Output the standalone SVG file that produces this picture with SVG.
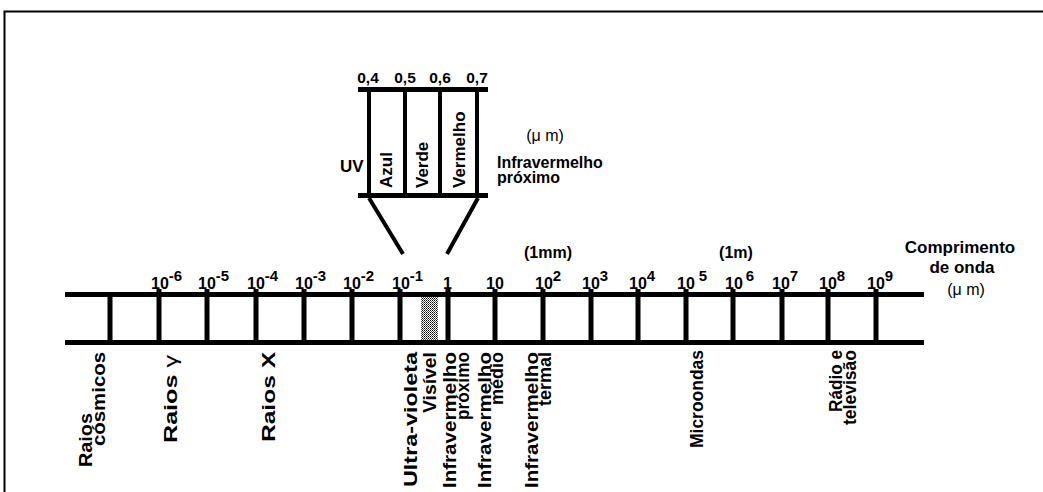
<svg xmlns="http://www.w3.org/2000/svg" width="1043" height="492" viewBox="0 0 1043 492">
<defs>
<pattern id="stip" width="2" height="2" patternUnits="userSpaceOnUse">
<rect width="2" height="2" fill="#fff"/>
<rect width="1" height="1" fill="#000"/>
<rect x="1" y="1" width="1" height="1" fill="#555"/>
</pattern>
</defs>
<style>
.t{font-family:"Liberation Sans",Arial,sans-serif;fill:#000}
.b{font-weight:bold}
.num{font-size:16px;font-weight:bold}
.sup{font-size:15px}
.lab{font-size:18px;font-weight:bold}
.h16{font-size:16px}
.h17{font-size:17px}
.rail{stroke:#000;stroke-width:5;fill:none}
.rung{stroke:#000;stroke-width:5;fill:none}
.thin{stroke:#000;stroke-width:4;fill:none}
</style>
<rect width="1043" height="492" fill="#fff"/>
<path d="M4.5,492 V11.5 H1043" fill="none" stroke="#000" stroke-width="2"/>

<g id="axis">
<path class="rail" d="M65,294.5 H924 M65,342.5 H924"/>
<path class="rung" d="M110,294 V345 M159,289 V345 M207,289 V345 M256,289 V345 M304,289 V345 M352,289 V345 M400,289 V345 M448,289 V345 M495,289 V345 M543,289 V345 M591,289 V345 M638,289 V345 M686,289 V345 M733,289 V345 M782,289 V345 M828,289 V345 M876,289 V345"/>
<rect x="421" y="297" width="17" height="43" fill="url(#stip)"/>
</g>

<g id="scale" class="t num">
<text x="151" y="289">10<tspan class="sup" dy="-8">-6</tspan></text>
<text x="198" y="289">10<tspan class="sup" dy="-8">-5</tspan></text>
<text x="247" y="289">10<tspan class="sup" dy="-8">-4</tspan></text>
<text x="295" y="289">10<tspan class="sup" dy="-8">-3</tspan></text>
<text x="343" y="289">10<tspan class="sup" dy="-8">-2</tspan></text>
<text x="392" y="289">10<tspan class="sup" dy="-8">-1</tspan></text>
<text x="443" y="289">1</text>
<text x="486" y="289">10</text>
<text x="535" y="289">10<tspan class="sup" dy="-8">2</tspan></text>
<text x="582" y="289">10<tspan class="sup" dy="-8">3</tspan></text>
<text x="629" y="289">10<tspan class="sup" dy="-8">4</tspan></text>
<text x="677" y="289">10<tspan class="sup" dx="4" dy="-8">5</tspan></text>
<text x="725" y="289">10<tspan class="sup" dx="3" dy="-8">6</tspan></text>
<text x="772" y="289">10<tspan class="sup" dy="-8">7</tspan></text>
<text x="819" y="289">10<tspan class="sup" dy="-8">8</tspan></text>
<text x="867" y="289">10<tspan class="sup" dy="-8">9</tspan></text>
<text class="b h16" x="548" y="258" text-anchor="middle">(1mm)</text>
<text class="b h16" x="736" y="258" text-anchor="middle">(1m)</text>
<text class="b h17" x="960" y="253" text-anchor="middle">Comprimento</text>
<text class="b h17" x="962" y="273" text-anchor="middle">de onda</text>
<text class="h16" x="966" y="295" text-anchor="middle" font-weight="normal">(μ m)</text>
</g>

<g id="inset">
<path class="rail" d="M358,89.5 H488 M358,195.5 H488"/>
<path class="thin" d="M369,89 V195 M405,89 V195 M440,89 V195 M477,89 V195"/>
<g class="t b" font-size="15.5">
<text x="368" y="83" text-anchor="middle">0,4</text>
<text x="405" y="83" text-anchor="middle">0,5</text>
<text x="440" y="83" text-anchor="middle">0,6</text>
<text x="477" y="83" text-anchor="middle">0,7</text>
</g>
<g class="t b" font-size="17">
<text transform="translate(392,188) rotate(-90)">Azul</text>
<text transform="translate(428,188) rotate(-90)">Verde</text>
<text transform="translate(465,188) rotate(-90)">Vermelho</text>
<text x="340" y="172">UV</text>
</g>
<text class="t h16" x="545" y="141" text-anchor="middle">(μ m)</text>
<text class="t b h16" x="497" y="168">Infravermelho</text>
<text class="t b h16" x="497" y="183">próximo</text>
</g>

<g id="connectors">
<path class="thin" d="M369,198 L403,254 M478,198 L447,254"/>
</g>

<g id="bands" class="t lab">
<text transform="translate(92,467) rotate(-90)" textLength="54" lengthAdjust="spacingAndGlyphs">Raios</text>
<text transform="translate(105,446) rotate(-90)" textLength="94" lengthAdjust="spacingAndGlyphs">cósmicos</text>
<text transform="translate(177,443) rotate(-90)" textLength="88" lengthAdjust="spacingAndGlyphs">Raios <tspan font-weight="normal">γ</tspan></text>
<text transform="translate(275,442) rotate(-90)" textLength="90" lengthAdjust="spacingAndGlyphs">Raios X</text>
<text transform="translate(417,487) rotate(-90)" textLength="135" lengthAdjust="spacingAndGlyphs">Ultra-violeta</text>
<text transform="translate(436,413) rotate(-90)" textLength="61" lengthAdjust="spacingAndGlyphs">Visível</text>
<text transform="translate(456,488) rotate(-90)" textLength="136" lengthAdjust="spacingAndGlyphs">Infravermelho</text>
<text transform="translate(469,420) rotate(-90)" textLength="68" lengthAdjust="spacingAndGlyphs">próximo</text>
<text transform="translate(491,488) rotate(-90)" textLength="136" lengthAdjust="spacingAndGlyphs">Infravermelho</text>
<text transform="translate(503,352) rotate(-90)" text-anchor="end">médio</text>
<text transform="translate(538,488) rotate(-90)" textLength="136" lengthAdjust="spacingAndGlyphs">Infravermelho</text>
<text transform="translate(551,352) rotate(-90)" text-anchor="end">termal</text>
<text transform="translate(703,448) rotate(-90)" textLength="98" lengthAdjust="spacingAndGlyphs">Microondas</text>
<text transform="translate(842,412) rotate(-90)" textLength="62" lengthAdjust="spacingAndGlyphs">Rádio e</text>
<text transform="translate(856,425) rotate(-90)" textLength="75" lengthAdjust="spacingAndGlyphs">televisão</text>
</g>
</svg>
